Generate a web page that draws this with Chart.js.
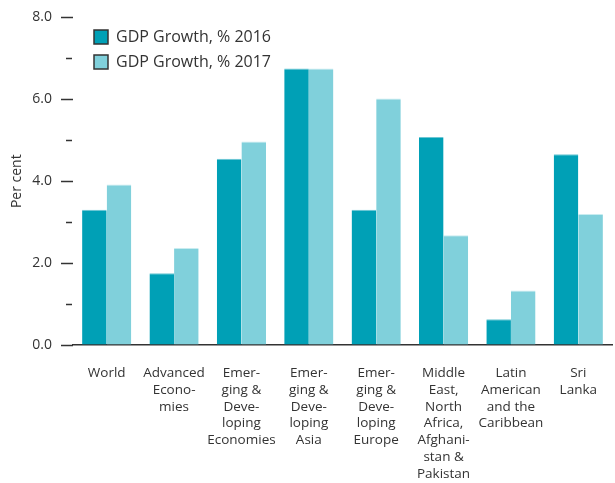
<!DOCTYPE html>
<html><head><meta charset="utf-8">
<script src="https://cdn.jsdelivr.net/npm/chart.js@4.4.1/dist/chart.umd.min.js"></script>
<style>html,body{margin:0;padding:0;background:#fff}#wrap{width:615px;height:483px;position:relative}</style>
</head><body><div id="wrap"><canvas id="c"></canvas></div>
<script>
const categories = [
  ["World"],
  ["Advanced","Econo-","mies"],
  ["Emer-","ging &","Deve-","loping","Economies"],
  ["Emer-","ging &","Deve-","loping","Asia"],
  ["Emer-","ging &","Deve-","loping","Europe"],
  ["Middle","East,","North","Africa,","Afghani-","stan &","Pakistan"],
  ["Latin","American","and the","Caribbean"],
  ["Sri","Lanka"]
];
const seriesNames = ["GDP Growth, % 2016", "GDP Growth, % 2017"];
const gdp2016 = [3.3, 1.75, 4.55, 6.75, 3.3, 5.08, 0.63, 4.66];
const gdp2017 = [3.92, 2.37, 4.97, 6.75, 6.02, 2.68, 1.33, 3.2];
const yTickLabels = {0:"0.0", 2:"2.0", 4:"4.0", 6:"6.0", 8:"8.0"};
const yTitle = "Per cent";

const FONT = "'Open Sans', sans-serif";
const C16 = "#00a0b6", C17 = "#80d0db";

const minorTicks = {
  id: 'minorTicks',
  afterDraw(chart) {
    const y = chart.scales.y, ctx = chart.ctx;
    const right = chart.chartArea.left;
    ctx.save();
    ctx.strokeStyle = '#333'; ctx.lineWidth = 1.5;
    y.ticks.forEach(t => {
      if (yTickLabels[t.value] === undefined) {
        const py = Math.round(y.getPixelForValue(t.value)) + 0.5;
        ctx.beginPath(); ctx.moveTo(right - 7, py); ctx.lineTo(right - 1, py); ctx.stroke();
      }
    });
    ctx.restore();
  }
};
const legendShift = {
  id: 'legendShift',
  afterLayout(chart) {
    if (chart.legend) { chart.legend.left += 12; chart.legend.top += 20; }
  }
};

new Chart(document.getElementById('c'), {
  type: 'bar',
  data: {
    labels: categories,
    datasets: [
      {label: seriesNames[0], data: gdp2016, backgroundColor: C16, borderColor: '#6cc6d3', borderWidth: {top:1, left:0, right:0, bottom:0}, borderSkipped: 'bottom'},
      {label: seriesNames[1], data: gdp2017, backgroundColor: C17, borderColor: '#c8ecf0', borderWidth: {top:1, left:0, right:0, bottom:0}, borderSkipped: 'bottom'}
    ]
  },
  options: {
    responsive: true, maintainAspectRatio: false, animation: false,
    devicePixelRatio: 1,
    layout: {padding: {top: 15, right: 3, bottom: 0, left: 0}},
    datasets: {bar: {categoryPercentage: 0.73, barPercentage: 1.0}},
    plugins: {
      tooltip: {enabled: false},
      legend: {
        position: 'chartArea', align: 'start',
        labels: {
          font: {family: FONT, size: 16}, color: '#333',
          boxWidth: 14, boxHeight: 14, padding: 9,
          generateLabels(chart) {
            return chart.data.datasets.map((d, i) => ({
              text: d.label, fillStyle: d.backgroundColor, strokeStyle: '#333', lineWidth: 1.5,
              hidden: false, datasetIndex: i, fontColor: '#333'
            }));
          }
        }
      }
    },
    scales: {
      x: {
        afterFit(scale) { scale.height = 138; },
        grid: {display: false},
        border: {display: true, color: '#333', width: 1.5},
        ticks: {font: {family: FONT, size: 13.5, lineHeight: 1.24}, color: '#333', padding: 12, maxRotation: 0, autoSkip: false}
      },
      y: {
        min: 0, max: 8,
        afterFit(scale) { scale.width = 73; },
        border: {display: false},
        grid: {drawOnChartArea: false, drawTicks: true, tickLength: 12, tickWidth: 1.5,
          tickColor: ctx => (yTickLabels[ctx.tick.value] !== undefined ? '#333' : 'rgba(0,0,0,0)')},
        ticks: {stepSize: 1, padding: 9, font: {family: FONT, size: 14}, color: '#333',
          callback: v => (yTickLabels[v] !== undefined ? yTickLabels[v] : '')},
        title: {display: true, text: yTitle, font: {family: FONT, size: 14}, color: '#333', padding: {top: 9, bottom: 0}}
      }
    }
  },
  plugins: [minorTicks, legendShift]
});
</script></body></html>
